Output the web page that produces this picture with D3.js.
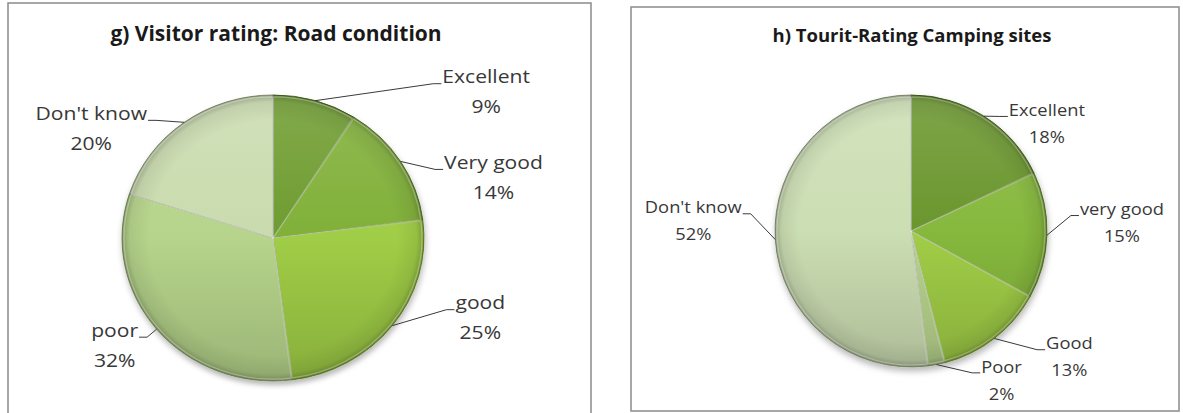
<!DOCTYPE html>
<html>
<head>
<meta charset="utf-8">
<script src="https://cdn.jsdelivr.net/npm/d3@7"></script>
<style>
  html, body { margin: 0; padding: 0; background: #ffffff; }
  svg { display: block; }
</style>
</head>
<body>
<svg id="chart" width="1183" height="413"></svg>
<script>
// ---- Road condition ratings ----
const roadCategories = ["Excellent", "Very good", "good", "poor", "Don't know"];
const roadValues     = [9, 14, 25, 32, 20];
const roadColors     = ["#6e9c2f", "#80b038", "#a0cd46", "#b6d48b", "#c9dbae"];

// ---- Camping site ratings ----
const campCategories = ["Excellent", "very good", "Good", "Poor", "Don't know"];
const campValues     = [18, 15, 13, 2, 52];
const campColors     = ["#6a962d", "#86b83d", "#a1ce47", "#b8d58d", "#ccdeb3"];

// label placement: text centre relative to the slice's rim point at its mid angle
const roadLabelOffsets = [[171, -24], [93, 1], [88, -23], [-42, 1], [-93, -9]];
const campLabelOffsets = [[63, -6], [75, -26], [75, 5], [65, 2], [-82, -32]];

const FONT = "'Open Sans', 'Noto Sans', sans-serif";

const svg = d3.select("#chart");
const defs = svg.append("defs");

// soft shadow beneath each pie
const shadow = defs.append("filter").attr("id", "pieShadow")
  .attr("x", "-20%").attr("y", "-20%").attr("width", "140%").attr("height", "140%");
shadow.append("feDropShadow").attr("dx", 1).attr("dy", 4).attr("stdDeviation", 3)
  .attr("flood-color", "#000").attr("flood-opacity", 0.28);

function panel(x, y, w, h) {
  svg.append("rect").attr("x", x).attr("y", y).attr("width", w).attr("height", h)
    .attr("fill", "#fff").attr("stroke", "#8a8a8a").attr("stroke-width", 1.5);
}

function drawPie(opts) {
  const { id, cx, cy, rx, ry, categories, values, colors, offsets,
          title, titleX, titleY, titleSize, labelSize, labelStretch, lineGap } = opts;

  svg.append("text").attr("x", titleX).attr("y", titleY)
    .attr("text-anchor", "middle")
    .attr("font-family", FONT)
    .attr("font-weight", "bold").attr("font-size", titleSize)
    .attr("fill", "#1a1a1a").text(title);

  const data = categories.map((c, i) => ({ name: c, value: values[i], color: colors[i] }));
  const pie = d3.pie().value(d => d.value).sort(null);
  const arcs = pie(data);
  const arc = d3.arc().innerRadius(0).outerRadius(rx);

  // per-slice vertical shading (light top, darker bottom)
  arcs.forEach((a, i) => {
    const base = d3.color(a.data.color);
    const g = defs.append("linearGradient").attr("id", `${id}-g${i}`)
      .attr("gradientUnits", "userSpaceOnUse")
      .attr("x1", 0).attr("y1", -rx).attr("x2", 0).attr("y2", rx);
    g.append("stop").attr("offset", 0).attr("stop-color", d3.interpolateRgb(base, "#ffffff")(0.14));
    g.append("stop").attr("offset", 0.5).attr("stop-color", base.formatHex());
    g.append("stop").attr("offset", 1).attr("stop-color", base.darker(0.45).formatHex());
  });

  // rim darkening to give the bevelled look
  const rim = defs.append("radialGradient").attr("id", `${id}-rim`)
    .attr("gradientUnits", "userSpaceOnUse").attr("cx", 0).attr("cy", 0).attr("r", rx);
  rim.append("stop").attr("offset", 0.82).attr("stop-color", "#000").attr("stop-opacity", 0);
  rim.append("stop").attr("offset", 0.95).attr("stop-color", "#000").attr("stop-opacity", 0.07);
  rim.append("stop").attr("offset", 1).attr("stop-color", "#000").attr("stop-opacity", 0.25);

  const gPie = svg.append("g")
    .attr("transform", `translate(${cx},${cy}) scale(1,${ry / rx})`)
    .attr("filter", "url(#pieShadow)");

  gPie.selectAll("path.slice").data(arcs).join("path")
    .attr("class", "slice")
    .attr("d", arc)
    .attr("fill", (d, i) => `url(#${id}-g${i})`)
    .attr("stroke", d => d3.color(d.data.color).darker(1.1).formatHex())
    .attr("stroke-width", 1)
    .attr("vector-effect", "non-scaling-stroke");

  gPie.selectAll("path.rim").data(arcs).join("path")
    .attr("class", "rim")
    .attr("d", arc)
    .attr("fill", `url(#${id}-rim)`)
    .attr("pointer-events", "none");

  // thin light highlight along the slice edges (bevel)
  gPie.selectAll("path.hl").data(arcs).join("path")
    .attr("class", "hl")
    .attr("d", d3.arc().innerRadius(0).outerRadius(rx - 2).padAngle(0.006))
    .attr("fill", "none")
    .attr("stroke", "#ffffff").attr("stroke-opacity", 0.3).attr("stroke-width", 1.2)
    .attr("vector-effect", "non-scaling-stroke");

  // labels with leader lines
  const lab = svg.append("g")
    .attr("font-family", FONT)
    .attr("font-size", labelSize).attr("fill", "#383838");

  arcs.forEach((a, i) => {
    const mid = (a.startAngle + a.endAngle) / 2;
    const ex = cx + rx * Math.sin(mid);
    const ey = cy - ry * Math.cos(mid);
    const tx = ex + offsets[i][0];
    const ty = ey + offsets[i][1];
    const pct = Math.round(a.value / d3.sum(values) * 100) + "%";

    const t = lab.append("text").attr("text-anchor", "middle")
      .attr("transform", `translate(${tx},${ty + labelSize * 0.36}) scale(${labelStretch},1)`);
    t.append("tspan").attr("x", 0).attr("y", 0).text(a.data.name);
    t.append("tspan").attr("x", 0).attr("y", lineGap).text(pct);

    const w = t.select("tspan").node().getComputedTextLength() * labelStretch;
    const side = offsets[i][0] >= 0 ? 1 : -1;
    const endX = tx - side * (w / 2 + 1);
    const endY = ty + labelSize * 0.38;
    const kneeX = endX - side * 8;
    lab.append("path")
      .attr("d", d3.line()([[ex, ey], [kneeX, endY], [endX, endY]]))
      .attr("fill", "none").attr("stroke", "#3a3a3a").attr("stroke-width", 1);
  });
}

panel(8, 3, 583, 430);
panel(631, 7, 548, 404);

drawPie({
  id: "road", cx: 273, cy: 238, rx: 151, ry: 143,
  categories: roadCategories, values: roadValues, colors: roadColors,
  offsets: roadLabelOffsets,
  title: "g) Visitor rating: Road condition", titleX: 276, titleY: 41,
  titleSize: 21, labelSize: 18.5, labelStretch: 1.14, lineGap: 30
});

drawPie({
  id: "camp", cx: 911, cy: 231, rx: 136, ry: 136,
  categories: campCategories, values: campValues, colors: campColors,
  offsets: campLabelOffsets,
  title: "h) Tourit-Rating Camping sites", titleX: 912, titleY: 42,
  titleSize: 18.5, labelSize: 16.5, labelStretch: 1.11, lineGap: 27
});
</script>
</body>
</html>
